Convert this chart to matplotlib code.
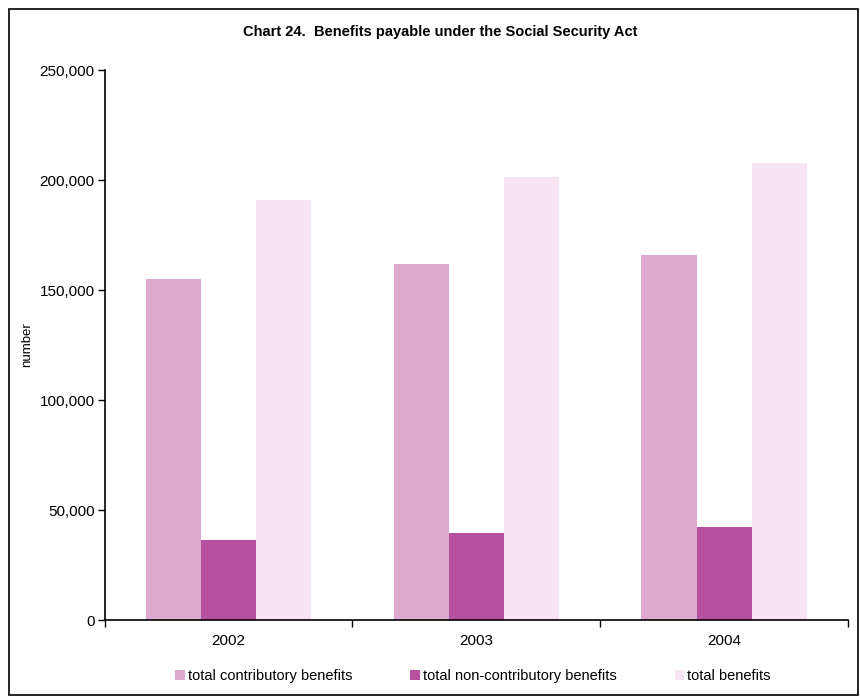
import numpy as np
import matplotlib
matplotlib.use("Agg")
import matplotlib.pyplot as plt
from matplotlib.patches import Rectangle
from matplotlib.ticker import FuncFormatter, FixedLocator

plt.rcParams["font.family"] = ["Liberation Sans", "DejaVu Sans"]

### Data ###
years = ["2002", "2003", "2004"]
contributory = [155000, 161800, 165900]
non_contributory = [36400, 39500, 42300]
total = [190900, 201400, 207700]

series_names = ["total contributory benefits", "total non-contributory benefits", "total benefits"]
colors = ["#DDA9CD", "#B5519F", "#F7E6F2"]

### Figure ###
fig = plt.figure(figsize=(8.6, 6.96), dpi=100)
ax = fig.add_axes([104.5 / 860, 1 - 620 / 696, (848 - 104.5) / 860, (620 - 70) / 696])

x = np.arange(len(years))
w = 1 / 4.5
handles = []
for i, (vals, c) in enumerate(zip([contributory, non_contributory, total], colors)):
    h = ax.bar(x + (i - 1) * w, vals, width=w, color=c, linewidth=0, label=series_names[i])
    handles.append(h)

ax.set_xlim(-0.5, 2.5)
ax.set_ylim(0, 250000)
ax.set_yticks(np.arange(0, 250001, 50000))
ax.yaxis.set_major_formatter(FuncFormatter(lambda v, p: f"{int(v):,}"))
ax.xaxis.set_major_locator(FixedLocator([-0.5, 0.5, 1.5, 2.5]))
ax.xaxis.set_major_formatter(FuncFormatter(lambda v, p: ""))
ax.xaxis.set_minor_locator(FixedLocator(x))
ax.set_xticks(x, years, minor=True)
ax.tick_params(axis="x", which="minor", length=0, pad=10, labelsize=11)
ax.tick_params(axis="x", which="major", direction="out", length=5, width=1)
ax.tick_params(axis="y", direction="out", length=5, width=1, labelsize=11, pad=2)

for s in ["top", "right"]:
    ax.spines[s].set_visible(False)
for s in ["left", "bottom"]:
    ax.spines[s].set_linewidth(1.2)

ax.set_ylabel("number", fontsize=9.5, labelpad=5)
fig.text(440 / 860, 1 - 32 / 696, "Chart 24.  Benefits payable under the Social Security Act",
         ha="center", va="center", fontsize=10.5, fontweight="bold")

fig.legend(handles=handles, loc="center", bbox_to_anchor=(0.55, 1 - 676 / 696), ncol=3,
           frameon=False, fontsize=10.5, handlelength=0.65, handleheight=0.65,
           handletextpad=0.2, columnspacing=4.0)

fig.patches.append(Rectangle((9 / 860, 0.0015), (858 - 9) / 860, 1 - 9 / 696 - 0.0015,
                             transform=fig.transFigure, fill=False, edgecolor="black", linewidth=1.2))

fig.savefig("out.png", dpi=100)
